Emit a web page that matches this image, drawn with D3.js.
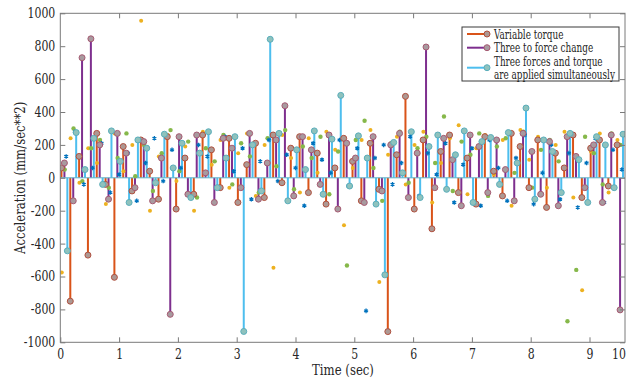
<!DOCTYPE html>
<html><head><meta charset="utf-8">
<script src="https://cdn.jsdelivr.net/npm/d3@7"></script>
<style>
body{margin:0;background:#fff;}
</style></head>
<body><svg id="c" width="627" height="380"></svg>
<script>
// ---- data ----
const xTicks = [0,1,2,3,4,5,6,7,8,9];
const yTicks = [-1000,-800,-600,-400,-200,0,200,400,600,800,1000];
const step = 0.15;
const orangeStart = 0.02, purpleStart = 0.07, cyanStart = 0.12;
const yellowStart = 0.025, greenStart = 0.075, blueStart = 0.10;
const legendLabels = ["Variable torque","Three to force change","Three forces and torque","are applied simultaneously"];

const variableTorque = [60,-750,130,-470,270,-40,-605,190,-80,230,40,-130,250,-190,120,-100,260,170,-60,240,-150,80,210,-120,260,-30,180,250,-90,150,-160,60,240,100,-140,210,-70,-935,140,495,-190,230,-310,160,260,-90,120,-160,250,40,-110,270,190,-60,230,-180,150,60,260,-120,180,230,-50,200];
const threeForceChange = [90,-140,730,845,200,-130,270,150,-60,220,-140,120,-830,250,-100,260,30,-150,240,180,-60,270,-130,90,230,438,-110,250,170,-40,260,-190,210,120,-150,250,-80,200,270,-120,150,795,-60,240,110,-170,260,190,-90,230,50,-140,270,160,-100,220,-170,250,130,-60,200,-150,260,-803];
const simultaneous = [-444,275,50,240,-40,285,100,-150,230,180,-30,265,60,210,-120,150,280,-60,120,250,-934,200,-80,842,270,-140,170,50,285,-100,235,501,-50,255,120,-160,-590,215,30,280,-120,190,260,-70,140,285,-150,220,245,-40,275,90,424,-130,230,160,-90,270,110,-150,250,200,-60,265];
const blueDots = [130,280,-40,60,210,-90,20,150,-140,90,240,-20,170,60,-100,200,130,-60,250,40,180,-130,100,230,-20,140,60,-170,210,110,30,230,-50,180,-809,120,200,-40,90,250,-110,150,20,210,-150,80,180,-170,230,60,-140,120,260,-160,30,200,-130,150,-180,90,240,-150,170,50];
const yellowDots = [-575,240,-30,180,90,-160,270,40,200,955,-200,130,260,-20,190,-200,280,80,230,-60,150,270,-110,200,-547,260,120,-90,240,30,280,170,-288,60,230,290,-633,140,250,-40,200,280,-150,90,240,320,-100,180,260,20,230,-170,290,110,250,-60,200,280,-120,-683,160,270,-90,230];
const greenDots = [50,300,-20,180,230,-60,120,270,10,200,-80,150,290,40,220,-120,180,100,260,-40,210,130,-90,240,70,290,-70,190,120,250,-100,160,-533,230,347,60,-140,210,280,-30,180,250,90,373,-80,220,140,270,-110,190,240,30,280,-60,170,230,100,-872,-560,250,150,-40,270,200];

// ---- layout ----
const svg = d3.select("#c");
const pL = 60.3, pT = 13.3, pB = 342.3, pR = 625;
const x = d3.scaleLinear().domain([0,10]).range([pL, pL + 588]);
const y = d3.scaleLinear().domain([-1000,1000]).range([pB, pT]);
const axisCol = "#7a7a7a", textCol = "#262626";
const FONT = "DejaVu Serif";
const NARROW = 0.78; // squeeze the wide serif toward a Times-like width
svg.attr("font-family", FONT);
// horizontal squeeze about each text's own anchor point
const squeeze = (sel, k) => sel.each(function(){
  const t = d3.select(this);
  const a = +t.attr("x") || 0;
  const prev = t.attr("transform") || "";
  t.attr("transform", `${prev} translate(${a},0) scale(${k},1) translate(${-a},0)`);
});
const narrow = sel => squeeze(sel, NARROW);

svg.append("defs").append("clipPath").attr("id","clip")
  .append("rect").attr("x",pL).attr("y",pT).attr("width",pR-pL).attr("height",pB-pT);

const plot = svg.append("g").attr("clip-path","url(#clip)");

const series = [
  {vals: variableTorque, start: orangeStart, line:"#D95319", mStroke:"#b0503e", mFill:"#ad9893"},
  {vals: threeForceChange, start: purpleStart, line:"#7E2F8E", mStroke:"#a65a72", mFill:"#a89a9f"},
  {vals: simultaneous, start: cyanStart, line:"#4DBEEE", mStroke:"#5aaebb", mFill:"#8fc2bd"}
];
const toPts = (vals, start) => vals.map((v,i)=>({t: start + step*i, v}));

series.forEach(s=>{
  plot.append("g").selectAll("line").data(toPts(s.vals, s.start)).join("line")
    .attr("x1",d=>x(d.t)).attr("x2",d=>x(d.t))
    .attr("y1",y(0)).attr("y2",d=>y(d.v))
    .attr("stroke",s.line).attr("stroke-width",2);
});
plot.append("line").attr("x1",pL).attr("x2",pR).attr("y1",y(0)).attr("y2",y(0))
  .attr("stroke","#5fb3c9").attr("stroke-width",1);

const dotSeries = [
  {vals: yellowDots, start: yellowStart, col:"#EDB120", r:2},
  {vals: greenDots, start: greenStart, col:"#86b84a", r:2.2}
];
dotSeries.forEach(s=>{
  plot.append("g").selectAll("circle").data(toPts(s.vals,s.start)).join("circle")
    .attr("cx",d=>x(d.t)).attr("cy",d=>y(d.v)).attr("r",s.r).attr("fill",s.col);
});
plot.append("g").selectAll("path").data(toPts(blueDots,blueStart)).join("path")
  .attr("transform",d=>`translate(${x(d.t)},${y(d.v)})`)
  .attr("d",d3.symbol(d3.symbolAsterisk,14)())
  .attr("stroke","#0072BD").attr("stroke-width",1.3).attr("fill","none");

series.forEach(s=>{
  plot.append("g").selectAll("circle").data(toPts(s.vals, s.start)).join("circle")
    .attr("cx",d=>x(d.t)).attr("cy",d=>y(d.v)).attr("r",3)
    .attr("fill",s.mFill).attr("stroke",s.mStroke).attr("stroke-width",1);
});

// ---- axes ----
const ax = svg.append("g");
const styleAxis = g => {
  g.attr("font-family",FONT);
  g.select(".domain").remove();
  g.selectAll(".tick line").attr("stroke",axisCol);
  g.selectAll(".tick text").attr("fill",textCol).attr("font-size",14).call(narrow);
};
ax.append("g").attr("transform",`translate(0,${pB})`)
  .call(d3.axisBottom(x).tickValues(xTicks).tickSize(-5).tickPadding(7).tickFormat(d3.format("d")))
  .call(styleAxis);
ax.append("g").attr("transform",`translate(0,${pT})`)
  .call(d3.axisTop(x).tickValues(xTicks.slice(1)).tickSize(-5).tickFormat(""))
  .call(styleAxis);
ax.append("g").attr("transform",`translate(${pL},0)`)
  .call(d3.axisLeft(y).tickValues(yTicks).tickSize(-5).tickPadding(5).tickFormat(d=>String(d)))
  .call(styleAxis);
ax.append("g").attr("transform",`translate(${pR},0)`)
  .call(d3.axisRight(y).tickValues(yTicks).tickSize(-5).tickFormat(""))
  .call(styleAxis);
ax.append("text").attr("x",619).attr("y",pB+7).attr("dy","0.71em")
  .attr("text-anchor","middle").attr("font-size",14).attr("fill",textCol).text("10").call(narrow);

svg.append("rect").attr("x",pL).attr("y",pT).attr("width",pR-pL).attr("height",pB-pT)
  .attr("fill","none").attr("stroke",axisCol).attr("stroke-width",1);

svg.append("text").attr("x",343).attr("y",375).attr("text-anchor","middle")
  .attr("font-size",15).attr("fill",textCol).text("Time (sec)").call(narrow);
svg.append("text").attr("transform",`translate(25,${(pT+pB)/2}) rotate(-90)`)
  .attr("text-anchor","middle").attr("font-size",15).attr("fill",textCol).text("Acceleration (mm/sec**2)").call(narrow);

// legend
const lg = svg.append("g");
lg.append("rect").attr("x",462).attr("y",27).attr("width",157).attr("height",54)
  .attr("fill","#fff").attr("stroke","#3a3a3a").attr("stroke-width",1);
const legendRows = [34, 47.7, 67.7];
series.forEach((s,i)=>{
  lg.append("line").attr("x1",467).attr("x2",487).attr("y1",legendRows[i]).attr("y2",legendRows[i])
    .attr("stroke",s.line).attr("stroke-width",2);
  lg.append("circle").attr("cx",487).attr("cy",legendRows[i]).attr("r",3)
    .attr("fill",s.mFill).attr("stroke",s.mStroke);
});
const textRows = [34, 47.7, 61, 74.5];
const lt = lg.selectAll("text.lt").data(legendLabels).join("text").attr("class","lt")
  .attr("x",494).attr("y",(d,i)=>textRows[i]).attr("dy","0.35em")
  .attr("font-size",13.5).attr("fill",textCol).text(d=>d);
let maxW = 0; lt.each(function(){ maxW = Math.max(maxW, this.getComputedTextLength()); });
const avail = 619 - 494 - 4;
squeeze(lt, Math.min(1, avail / maxW));
</script></body></html>
